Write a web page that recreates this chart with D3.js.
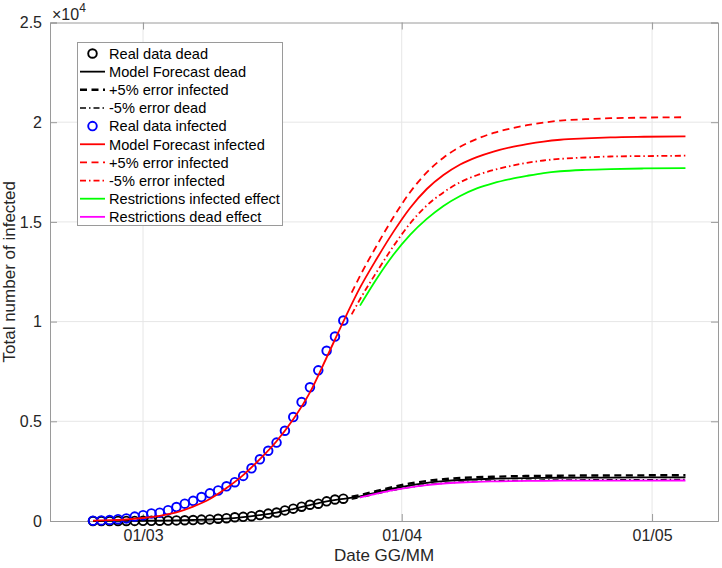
<!DOCTYPE html>
<html><head><meta charset="utf-8">
<script src="https://cdn.jsdelivr.net/npm/d3@7"></script>
<style>body{margin:0;background:#fff}svg{display:block}text{font-family:"Liberation Sans",Arial,Helvetica,sans-serif}</style>
</head><body><svg id="c" width="722" height="568"></svg>
<script>
// ---- data (days counted from 01/03; values = total number) ----
const dataDays = [-6,-5,-4,-3,-2,-1,0,1,2,3,4,5,6,7,8,9,10,11,12,13,14,15,16,17,18,19,20,21,22,23,24];
const infectedData = [18,30,50,90,130,220,290,380,420,544,698,870,1010,1200,1386,1533,1739,1947,2263,2644,3093,3522,3931,4525,5214,5968,6705,7555,8535,9254,10054];
const deadData = [0,0,0,2,4,6,8,10,14,22,31,37,48,70,81,113,141,189,207,241,300,370,426,531,619,716,816,867,986,1077,1120];

const modelDays = [-6,-4,-2,0,2,4,6,8,10,12,14,16,18,20,22,24,26,28,30,32,34,36,38,40,42,44,46,48,50,53,56,60,65];
const modelInfected = [20,40,75,150,260,430,720,1100,1650,2300,3100,4000,5100,6450,8200,10000,11700,13150,14500,15700,16650,17350,17880,18250,18530,18740,18900,19030,19120,19190,19240,19270,19290];
const modelDead = [0,2,5,12,20,32,50,75,120,195,290,420,600,800,985,1110,1240,1440,1630,1790,1910,1995,2055,2095,2120,2138,2152,2162,2168,2175,2180,2183,2185];

const errDays = [25,26,28,30,32,34,36,38,40,42,44,46,48,50,53,56,60,65];
const infPlus5 = [11450,12290,13810,15230,16490,17480,18220,18770,19160,19460,19680,19850,19980,20080,20150,20200,20230,20250];
const infMinus5 = [10360,11120,12490,13780,14920,15820,16480,16990,17340,17600,17800,17960,18080,18160,18230,18280,18300,18320];
const deadPlus5 = [1220,1300,1510,1710,1880,2005,2095,2155,2195,2220,2240,2255,2265,2272,2280,2285,2290,2295];
const deadMinus5 = [1100,1180,1370,1550,1700,1815,1895,1950,1985,2010,2028,2040,2048,2053,2060,2065,2070,2075];

const restrDays = [26,28,30,32,34,36,38,40,42,44,46,48,50,53,56,60,65];
const restrInfected = [10800,12150,13350,14350,15150,15800,16300,16680,16950,17150,17310,17450,17540,17610,17650,17680,17700];
const restrDead = [1180,1370,1545,1690,1800,1880,1930,1965,1985,2000,2010,2015,2020,2024,2027,2029,2030];

const xTickValues = [0,31,61];
const xTickLabels = ["01/03","01/04","01/05"];
const yTickValues = [0,5000,10000,15000,20000,25000];
const yTickLabels = ["0","0.5","1","1.5","2","2.5"];

const legendLabels = ["Real data dead","Model Forecast dead","+5% error infected","-5% error dead","Real data infected","Model Forecast infected","+5% error infected","-5% error infected","Restrictions infected effect","Restrictions dead effect"];

// ---- layout ----
const L=50, R=718, T=22.5, B=521;
const svg = d3.select("#c");
const x = d3.scaleLinear().domain([-11.15,68.9]).range([L,R]);
const y = d3.scaleLinear().domain([0,25000]).range([B,T]);

// grid
const g = svg.append("g");
g.selectAll(".gx").data(xTickValues).join("line")
  .attr("x1",d=>x(d)).attr("x2",d=>x(d)).attr("y1",T).attr("y2",B)
  .attr("stroke","#e6e6e6").attr("stroke-width",1);
g.selectAll(".gy").data(yTickValues.slice(1,-1)).join("line")
  .attr("x1",L).attr("x2",R).attr("y1",d=>y(d)).attr("y2",d=>y(d))
  .attr("stroke","#e6e6e6").attr("stroke-width",1);

// axes (ticks inward, box)
const axB = d3.axisBottom(x).tickValues(xTickValues).tickSize(-7).tickPadding(9)
  .tickFormat((d,i)=>xTickLabels[i]);
const axL = d3.axisLeft(y).tickValues(yTickValues).tickSize(-7).tickPadding(8)
  .tickFormat((d,i)=>yTickLabels[i]);
const axT = d3.axisTop(x).tickValues(xTickValues).tickSize(-7).tickFormat("");
const axR = d3.axisRight(y).tickValues(yTickValues).tickSize(-7).tickFormat("");
function style(sel){
  sel.selectAll("path").attr("stroke","#9a9a9a").attr("stroke-width",1);
  sel.selectAll("line").attr("stroke","#9a9a9a");
  sel.selectAll("text").attr("fill","#262626").style("font-size","16px")
    .style("font-family","'Liberation Sans',Arial,sans-serif");
}
svg.append("g").attr("transform",`translate(0,${B})`).call(axB).call(style);
svg.append("g").attr("transform",`translate(${L},0)`).call(axL).call(style);
svg.append("g").attr("transform",`translate(0,${T})`).call(axT).call(style);
svg.append("g").attr("transform",`translate(${R},0)`).call(axR).call(style);

// exponent
const ex = svg.append("text").attr("x",52).attr("y",20).attr("fill","#262626").style("font-size","16px");
ex.append("tspan").text("\u00d710");
ex.append("tspan").attr("dy",-8).style("font-size","12px").text("4");

// axis labels
svg.append("text").attr("x",(L+R)/2).attr("y",561).attr("text-anchor","middle")
  .attr("fill","#262626").style("font-size","17px").text("Date GG/MM");
svg.append("text").attr("transform",`translate(15,${(T+B)/2}) rotate(-90)`).attr("text-anchor","middle")
  .attr("fill","#262626").style("font-size","17px").text("Total number of infected");

// ---- marks ----
const line = (xs) => d3.line().x((d,i)=>x(xs[i])).y(d=>y(d)).curve(d3.curveMonotoneX);
const DASH="7,4.5", DASHDOT="6,3,1.5,3";
function path(xs, vals, color, dash, w){
  svg.append("path").datum(vals).attr("d",line(xs)).attr("fill","none")
    .attr("stroke",color).attr("stroke-width",w||1.8).attr("stroke-dasharray",dash||null);
}
function circles(xs, vals, color){
  svg.append("g").selectAll("circle").data(vals).join("circle")
    .attr("cx",(d,i)=>x(xs[i])).attr("cy",d=>y(d)).attr("r",4.3)
    .attr("fill","none").attr("stroke",color).attr("stroke-width",1.9);
}
circles(dataDays, deadData, "#000");
path(modelDays, modelDead, "#000");
path(errDays, deadPlus5, "#000", DASH, 2.4);
path(errDays, deadMinus5, "#000", DASHDOT, 1.6);
circles(dataDays, infectedData, "#0000ff");
path(modelDays, modelInfected, "#ff0000");
path(errDays, infPlus5, "#ff0000", DASH);
path(errDays, infMinus5, "#ff0000", DASHDOT);
path(restrDays, restrInfected, "#00ff00");
path(restrDays, restrDead, "#ff00ff");

// ---- legend ----
const lg = svg.append("g");
lg.append("rect").attr("x",77.5).attr("y",42.5).attr("width",205).attr("height",183)
  .attr("fill","#fff").attr("stroke","#9a9a9a").attr("stroke-width",1);
const legendStyles = [
  {c:"#000",m:true},{c:"#000"},{c:"#000",d:DASH,w:2.4},{c:"#000",d:DASHDOT,w:1.6},
  {c:"#0000ff",m:true},{c:"#ff0000"},{c:"#ff0000",d:DASH},{c:"#ff0000",d:DASHDOT},
  {c:"#00ff00"},{c:"#ff00ff"}];
legendLabels.forEach((t,i)=>{
  const yy = 53.5 + i*18.15;
  const s = legendStyles[i];
  if(s.m){
    lg.append("circle").attr("cx",92.5).attr("cy",yy).attr("r",4.3).attr("fill","none")
      .attr("stroke",s.c).attr("stroke-width",1.9);
  } else {
    lg.append("line").attr("x1",80).attr("x2",105).attr("y1",yy).attr("y2",yy)
      .attr("stroke",s.c).attr("stroke-width",s.w||1.8).attr("stroke-dasharray",s.d||null);
  }
  lg.append("text").attr("x",109).attr("y",yy).attr("dy","0.36em").attr("fill","#000")
    .style("font-size","14.6px").text(t);
});
</script></body></html>
